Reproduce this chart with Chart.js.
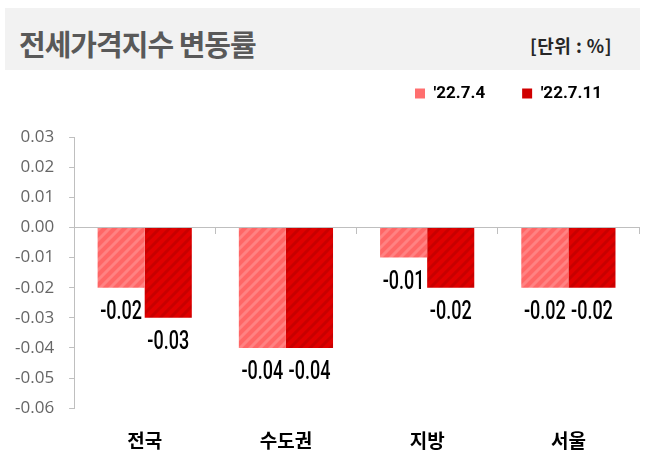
<!DOCTYPE html>
<html>
<head>
<meta charset="utf-8">
<script src="https://cdn.jsdelivr.net/npm/chart.js@4"></script>
<style>
  body { margin: 0; background: #fff; width: 647px; height: 469px; position: relative; overflow: hidden; }
  #band { position: absolute; left: 5px; top: 8px; width: 635px; height: 62px; background: #f2f2f2; }
  #title { position: absolute; left: 14px; top: 14px; font: bold 29px "Noto Sans CJK KR", sans-serif; color: #595959; letter-spacing: -1px; }
  #unit { position: absolute; right: 28px; top: 24px; font: bold 18px "Noto Sans CJK KR", sans-serif; color: #262626; letter-spacing: 0.5px; }
  #wrap { position: absolute; left: 0; top: 48px; width: 647px; height: 421px; }
</style>
</head>
<body>
<div id="band"><div id="title">전세가격지수 변동률</div><div id="unit">[단위 : %]</div></div>
<div id="wrap"><canvas id="myChart"></canvas></div>
<script>
var categories = ['전국', '수도권', '지방', '서울'];
var seriesNames = ["'22.7.4", "'22.7.11"];
var week1 = [-0.02, -0.04, -0.01, -0.02];
var week2 = [-0.03, -0.04, -0.02, -0.02];
var yTicks = [0.03, 0.02, 0.01, 0.00, -0.01, -0.02, -0.03, -0.04, -0.05, -0.06];

function stripes(base, line) {
    var c = document.createElement('canvas');
    c.width = 10; c.height = 10;
    var g = c.getContext('2d');
    g.fillStyle = base;
    g.fillRect(0, 0, 10, 10);
    g.strokeStyle = line;
    g.lineWidth = 3;
    g.beginPath();
    g.moveTo(-5, 5); g.lineTo(5, -5);
    g.moveTo(0, 10); g.lineTo(10, 0);
    g.moveTo(5, 15); g.lineTo(15, 5);
    g.stroke();
    return g.createPattern(c, 'repeat');
}

// value labels under each bar, squeezed to look like a narrow font
var valueLabels = {
    id: 'valueLabels',
    afterDatasetsDraw: function (chart) {
        var ctx = chart.ctx;
        chart.data.datasets.forEach(function (ds, i) {
            chart.getDatasetMeta(i).data.forEach(function (bar, j) {
                ctx.save();
                ctx.translate(bar.x, bar.y + 31);
                ctx.scale(0.72, 1);
                ctx.font = '500 25px Roboto, sans-serif';
                ctx.fillStyle = '#000';
                ctx.textAlign = 'center';
                ctx.textBaseline = 'alphabetic';
                ctx.fillText(ds.data[j].toFixed(2), 0, 0);
                ctx.restore();
            });
        });
    }
};

// extra room between legend and plot
var legendGap = {
    id: 'legendGap',
    beforeInit: function (chart) {
        var fit = chart.legend.fit;
        chart.legend.fit = function () {
            fit.bind(chart.legend)();
            this.height += 25;
        };
    }
};

var ctx = document.getElementById('myChart').getContext('2d');
var myChart = new Chart(ctx, {
    type: 'bar',
    data: {
        labels: categories,
        datasets: [{
            label: seriesNames[0],
            data: week1,
            backgroundColor: stripes('#ff6666', '#ff8282'),
            borderWidth: 0
        }, {
            label: seriesNames[1],
            data: week2,
            backgroundColor: stripes('#e00000', '#c80000'),
            borderWidth: 0
        }]
    },
    options: {
        responsive: true,
        maintainAspectRatio: false,
        animation: false,
        layout: { padding: { top: 0, right: 8, bottom: 4, left: 0 } },
        categoryPercentage: 0.667,
        barPercentage: 1.0,
        plugins: {
            legend: {
                position: 'top',
                align: 'end',
                labels: {
                    boxWidth: 10,
                    boxHeight: 10,
                    padding: 37,
                    color: '#000',
                    font: { family: 'Roboto, sans-serif', size: 17, weight: 'bold' },
                    generateLabels: function (chart) {
                        var cols = ['#ff6f6f', '#d00000'];
                        return chart.data.datasets.map(function (ds, i) {
                            return { text: ds.label, fillStyle: cols[i], strokeStyle: cols[i], lineWidth: 0, datasetIndex: i };
                        });
                    }
                }
            },
            tooltip: { enabled: false }
        },
        scales: {
            x: {
                position: 'bottom',
                grid: { display: false },
                border: { display: false },
                ticks: { color: '#000', padding: 13, font: { family: '"Noto Sans CJK KR", sans-serif', size: 19, weight: 'bold' } }
            },
            x0: {
                type: 'category',
                labels: categories,
                position: { y: 0 },
                offset: true,
                grid: { offset: true, drawOnChartArea: false, tickLength: 6, color: '#bfbfbf' },
                border: { color: '#bfbfbf', width: 1 },
                ticks: { display: false }
            },
            y: {
                min: -0.06,
                max: 0.03,
                afterBuildTicks: function (axis) {
                    axis.ticks = yTicks.map(function (v) { return { value: v }; });
                },
                grid: { drawOnChartArea: false, tickLength: 5, color: '#bfbfbf' },
                border: { color: '#bfbfbf' },
                ticks: {
                    color: '#666',
                    padding: 15,
                    font: { family: '"Open Sans", sans-serif', size: 17 },
                    callback: function (v) { return v.toFixed(2); }
                }
            }
        }
    },
    plugins: [valueLabels, legendGap]
});
</script>
</body>
</html>
